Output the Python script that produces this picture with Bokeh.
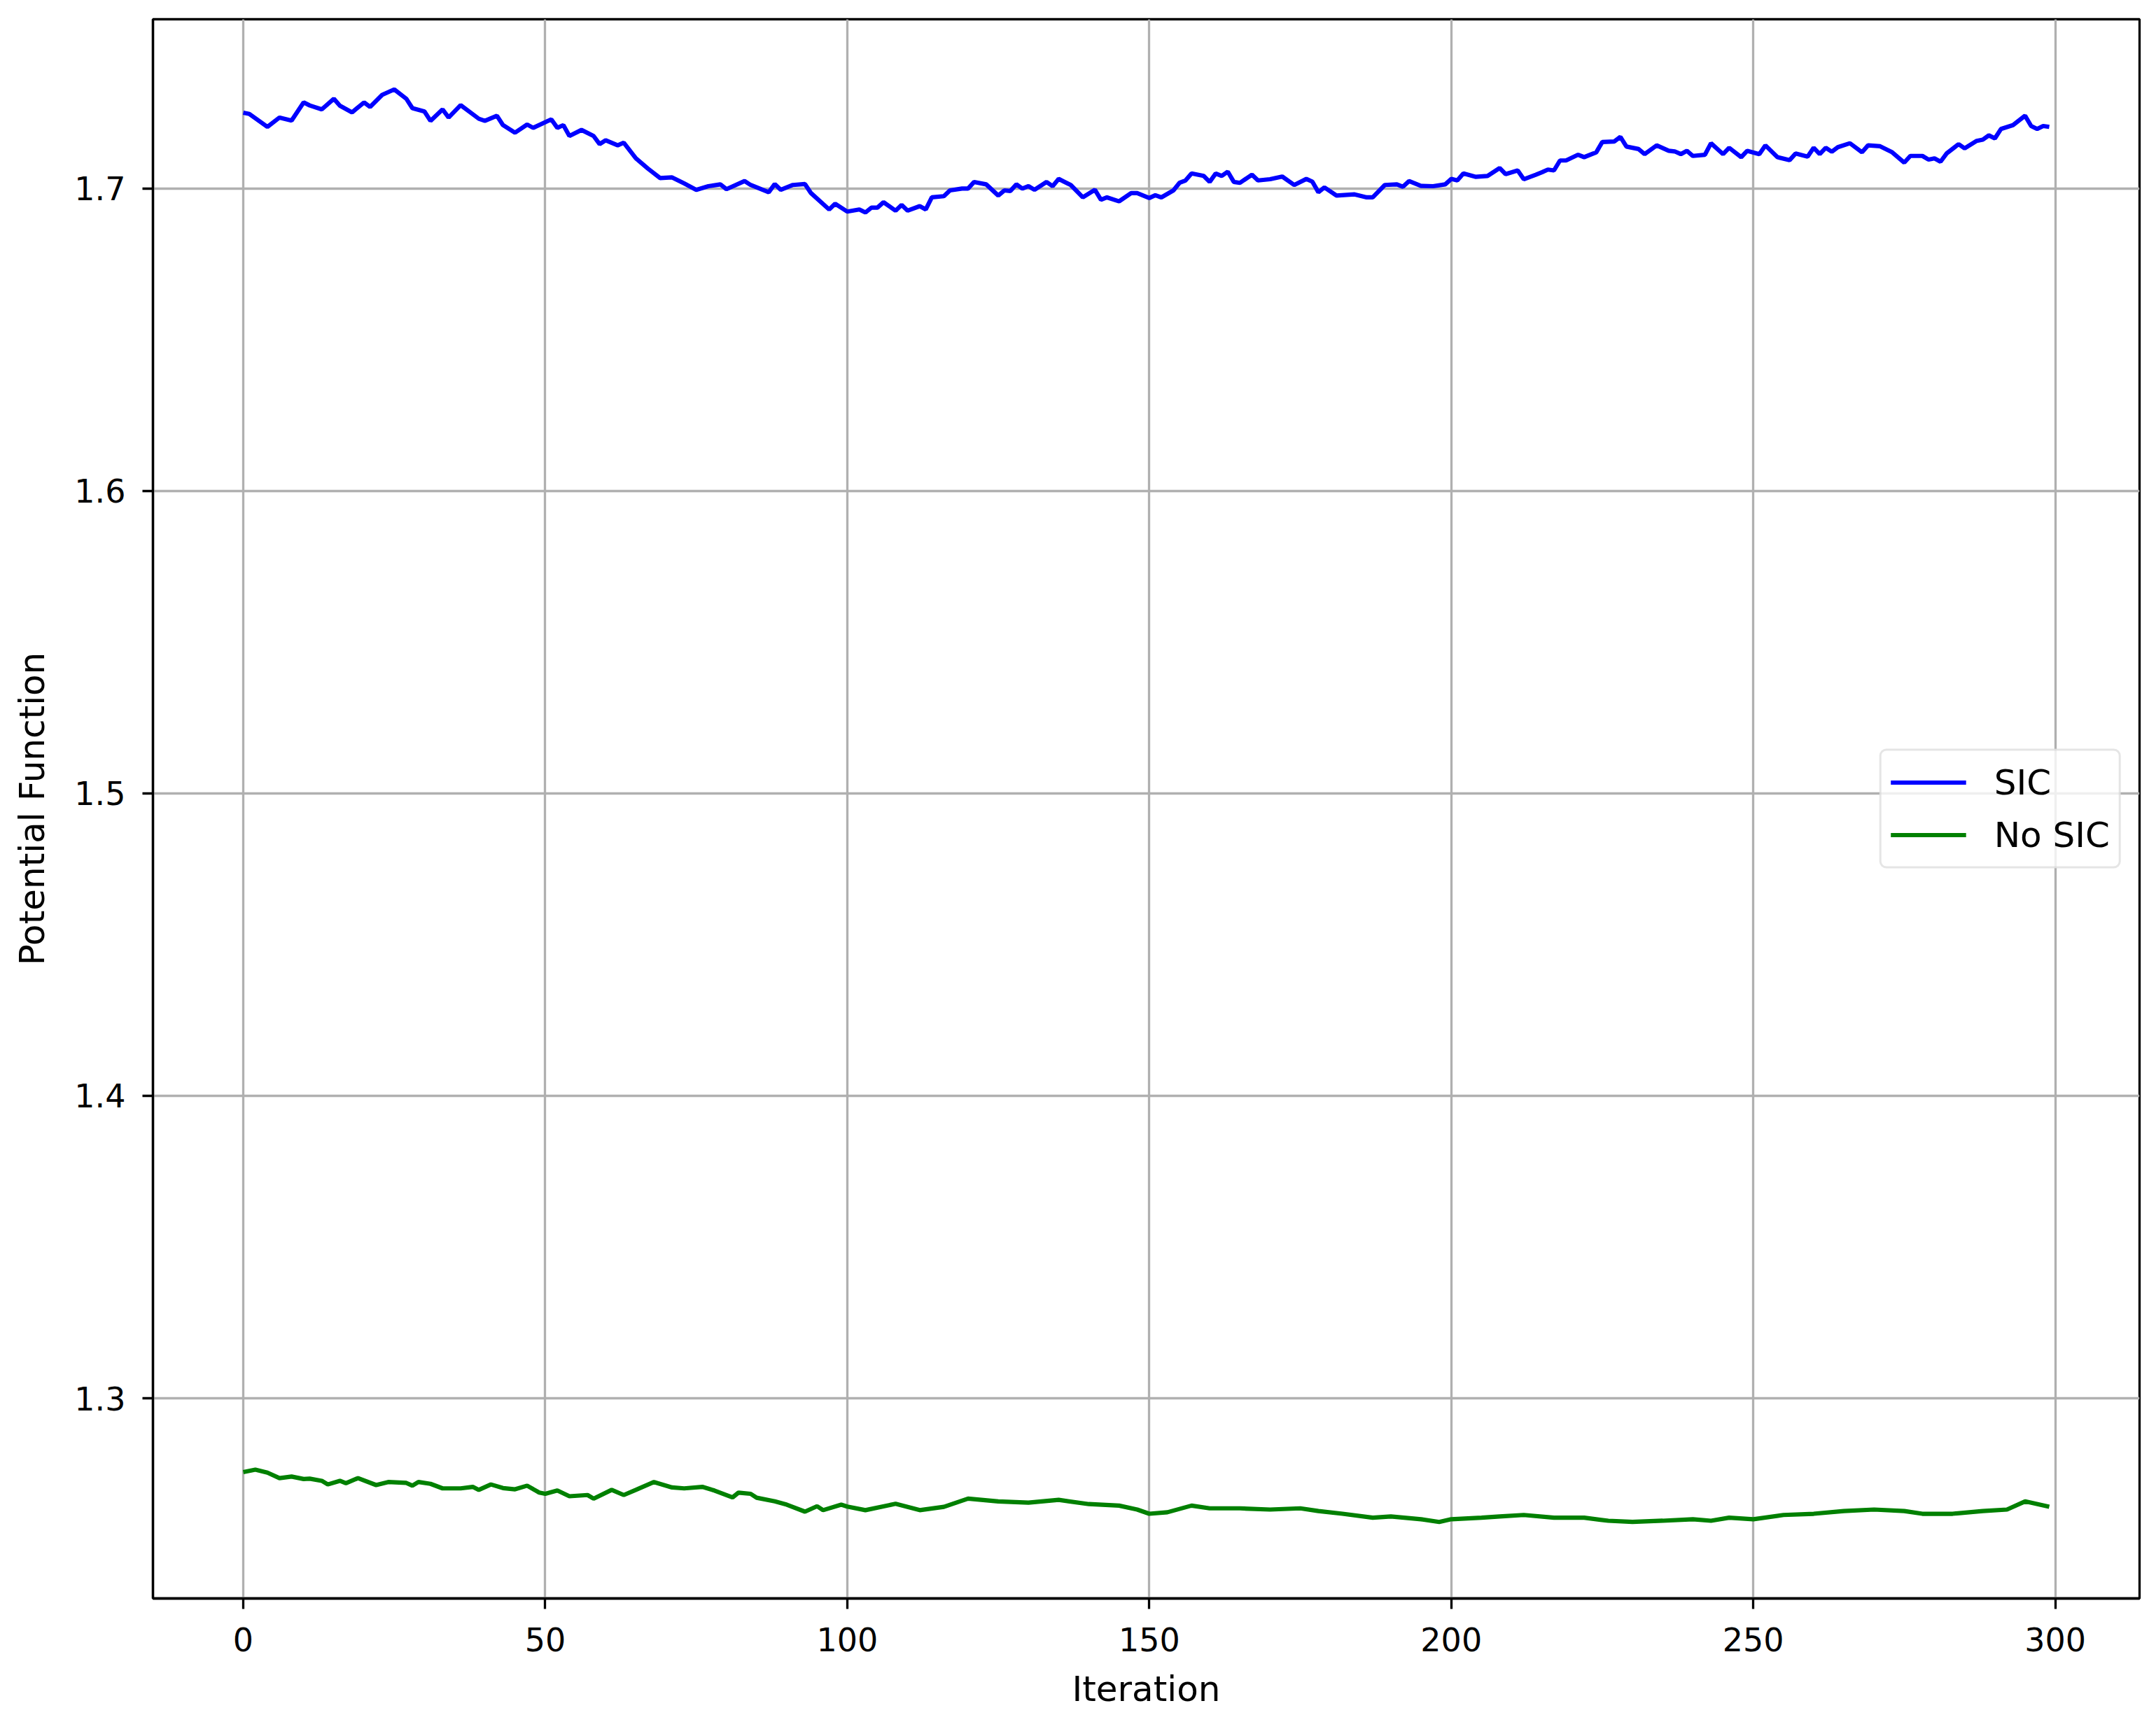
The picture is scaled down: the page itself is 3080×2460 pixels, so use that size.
from bokeh.plotting import figure
from bokeh.models import Range1d, FixedTicker, Legend, LegendItem
from bokeh.embed import file_html
from bokeh.resources import INLINE

# ---- data ----
sic_iter = [0, 1, 4, 6, 8, 10, 11, 13, 15, 16, 18, 20, 21, 23, 25, 27, 28, 30, 31, 33, 34, 36, 39, 40,
            42, 43, 45, 47, 48, 51, 52, 53, 54, 56, 58, 59, 60, 62, 63, 65, 67, 69, 71, 73, 75, 77, 79,
            80, 83, 84, 87, 88, 89, 91, 93, 94, 97, 98, 100, 102, 103, 104, 105, 106, 108, 109, 110,
            112, 113, 114, 116, 117, 119, 120, 121, 123, 125, 126, 127, 128, 129, 130, 131, 133, 134,
            135, 137, 139, 141, 142, 143, 145, 147, 148, 150, 151, 152, 154, 155, 156, 157, 159, 160,
            161, 162, 163, 164, 165, 167, 168, 170, 172, 174, 176, 177, 178, 179, 181, 184, 186, 187,
            189, 191, 192, 193, 195, 197, 199, 200, 201, 202, 204, 206, 208, 209, 211, 212, 214, 215,
            216, 217, 218, 219, 221, 222, 224, 225, 227, 228, 229, 231, 232, 234, 236, 237, 238, 239,
            240, 242, 243, 245, 246, 248, 249, 251, 252, 254, 256, 257, 259, 260, 261, 262, 263, 264,
            266, 268, 269, 271, 273, 275, 276, 278, 279, 280, 281, 282, 284, 285, 287, 288, 289, 290,
            291, 293, 295, 296, 297, 298, 299]
sic_vals = [1.7251, 1.7247, 1.7204, 1.7235, 1.7225, 1.7285, 1.7275, 1.7262, 1.7297, 1.7274, 1.7252,
            1.7285, 1.7270, 1.7310, 1.7328, 1.7297, 1.7266, 1.7255, 1.7224, 1.7262, 1.7235, 1.7276,
            1.7231, 1.7224, 1.7241, 1.7210, 1.7185, 1.7212, 1.7201, 1.7229, 1.7201, 1.7210, 1.7174,
            1.7194, 1.7174, 1.7147, 1.7160, 1.7143, 1.7152, 1.7100, 1.7066, 1.7035, 1.7037, 1.7017,
            1.6996, 1.7008, 1.7014, 1.6998, 1.7025, 1.7012, 1.6988, 1.7015, 1.6996, 1.7012, 1.7015,
            1.6985, 1.6931, 1.6950, 1.6924, 1.6931, 1.6921, 1.6937, 1.6937, 1.6955, 1.6927, 1.6946,
            1.6927, 1.6942, 1.6931, 1.6971, 1.6975, 1.6994, 1.7000, 1.7000, 1.7022, 1.7014, 1.6977,
            1.6994, 1.6992, 1.7014, 1.7000, 1.7008, 1.6996, 1.7022, 1.7008, 1.7032, 1.7012, 1.6971,
            1.6996, 1.6963, 1.6971, 1.6958, 1.6985, 1.6985, 1.6969, 1.6978, 1.6971, 1.6994, 1.7019,
            1.7027, 1.7050, 1.7042, 1.7022, 1.7050, 1.7042, 1.7056, 1.7022, 1.7019, 1.7046, 1.7027,
            1.7031, 1.7040, 1.7012, 1.7032, 1.7023, 1.6988, 1.7004, 1.6977, 1.6981, 1.6971, 1.6971,
            1.7012, 1.7014, 1.7006, 1.7025, 1.7009, 1.7008, 1.7014, 1.7032, 1.7027, 1.7050, 1.7039,
            1.7042, 1.7068, 1.7048, 1.7060, 1.7031, 1.7046, 1.7054, 1.7063, 1.7060, 1.7093, 1.7093,
            1.7112, 1.7104, 1.7120, 1.7154, 1.7156, 1.7171, 1.7139, 1.7131, 1.7114, 1.7143, 1.7125,
            1.7123, 1.7114, 1.7125, 1.7108, 1.7112, 1.7150, 1.7114, 1.7135, 1.7104, 1.7125, 1.7114,
            1.7143, 1.7104, 1.7094, 1.7116, 1.7106, 1.7135, 1.7114, 1.7135, 1.7122, 1.7137, 1.7150,
            1.7120, 1.7143, 1.7140, 1.7120, 1.7086, 1.7108, 1.7108, 1.7096, 1.7100, 1.7089, 1.7116,
            1.7147, 1.7133, 1.7158, 1.7162, 1.7176, 1.7166, 1.7197, 1.7210, 1.7241, 1.7207, 1.7197,
            1.7207, 1.7204]

nosic_iter = [0, 2, 4, 6, 8, 10, 11, 13, 14, 16, 17, 19, 22, 24, 27, 28, 29, 31, 33, 36, 38, 39, 41,
              43, 45, 47, 49, 50, 52, 54, 57, 58, 61, 63, 65, 68, 71, 73, 76, 78, 81, 82, 84, 85, 88,
              90, 93, 95, 96, 99, 100, 103, 108, 112, 116, 120, 125, 130, 135, 140, 145, 148, 150,
              153, 157, 160, 165, 170, 175, 178, 182, 187, 190, 195, 198, 200, 205, 208, 212, 217,
              222, 226, 230, 235, 240, 243, 246, 250, 255, 260, 265, 270, 275, 278, 283, 288, 292,
              295, 299]
nosic_vals = [1.2756, 1.2764, 1.2754, 1.2736, 1.2741, 1.2733, 1.2734, 1.2727, 1.2715, 1.2727, 1.2719,
              1.2736, 1.2713, 1.2723, 1.2720, 1.2711, 1.2723, 1.2717, 1.2702, 1.2702, 1.2707, 1.2697,
              1.2715, 1.2703, 1.2699, 1.2711, 1.2688, 1.2684, 1.2695, 1.2676, 1.2680, 1.2668, 1.2697,
              1.2680, 1.2697, 1.2723, 1.2705, 1.2702, 1.2707, 1.2695, 1.2672, 1.2688, 1.2684, 1.2671,
              1.2659, 1.2648, 1.2625, 1.2643, 1.2630, 1.2648, 1.2642, 1.2630, 1.2651, 1.2630, 1.2641,
              1.2668, 1.2659, 1.2655, 1.2664, 1.2650, 1.2645, 1.2632, 1.2618, 1.2623, 1.2645, 1.2636,
              1.2636, 1.2632, 1.2636, 1.2627, 1.2618, 1.2605, 1.2609, 1.2600, 1.2591, 1.2600, 1.2605,
              1.2609, 1.2614, 1.2605, 1.2605, 1.2595, 1.2591, 1.2595, 1.2600, 1.2595, 1.2605, 1.2600,
              1.2614, 1.2618, 1.2627, 1.2632, 1.2627, 1.2618, 1.2618, 1.2627, 1.2632, 1.2659, 1.2641]

x_ticks = [0, 50, 100, 150, 200, 250, 300]
y_ticks = [1.3, 1.4, 1.5, 1.6, 1.7]
series_labels = ["SIC", "No SIC"]

FONT = "DejaVu Sans"

p = figure(width=3064, height=2444, output_backend="svg", toolbar_location=None,
           x_range=Range1d(-14.95, 313.95), y_range=Range1d(1.2338, 1.7560),
           min_border_left=218, min_border_right=8, min_border_top=27, min_border_bottom=161)

p.background_fill_color = "white"
p.border_fill_color = "white"
p.outline_line_color = "black"
p.outline_line_width = 3.3

r1 = p.line(sic_iter, sic_vals, line_color="#0000ff", line_width=6.2)
r2 = p.line(nosic_iter, nosic_vals, line_color="#008000", line_width=6.2)

p.xaxis.ticker = FixedTicker(ticks=x_ticks)
p.yaxis.ticker = FixedTicker(ticks=y_ticks)
p.xaxis.axis_label = "Iteration"
p.yaxis.axis_label = "Potential Function"

for ax in (p.xaxis, p.yaxis):
    ax.axis_label_text_font = FONT
    ax.axis_label_text_font_size = "50px"
    ax.axis_label_text_font_style = "normal"
    ax.axis_label_text_color = "black"
    ax.major_label_text_font = FONT
    ax.major_label_text_font_size = "46px"
    ax.major_label_text_color = "black"
    ax.major_tick_out = 15
    ax.major_tick_in = 0
    ax.major_tick_line_width = 3.3
    ax.major_tick_line_color = "black"
    ax.minor_tick_line_color = None
    ax.axis_line_color = "black"
    ax.axis_line_width = 3.3
p.xaxis.major_label_standoff = 26
p.yaxis.major_label_standoff = 24
p.xaxis.axis_label_standoff = 22
p.yaxis.axis_label_standoff = 28

p.grid.grid_line_color = "#b0b0b0"
p.grid.grid_line_width = 3.3
p.xgrid.ticker = FixedTicker(ticks=x_ticks)
p.ygrid.ticker = FixedTicker(ticks=y_ticks)

legend = Legend(items=[LegendItem(label=series_labels[0], renderers=[r1]),
                       LegendItem(label=series_labels[1], renderers=[r2])],
                location="center_right")
legend.margin = 26
legend.padding = 13
legend.spacing = 11
legend.glyph_width = 108
legend.glyph_height = 64
legend.label_height = 64
legend.label_standoff = 40
legend.label_text_font = FONT
legend.label_text_font_size = "50px"
legend.label_text_color = "black"
legend.border_line_color = "#cccccc"
legend.border_line_width = 3
legend.background_fill_alpha = 0.8
legend.background_fill_color = "white"
if "border_radius" in legend.properties():
    legend.border_radius = 10
p.add_layout(legend)

open("out.html", "w").write(file_html(p, INLINE))
